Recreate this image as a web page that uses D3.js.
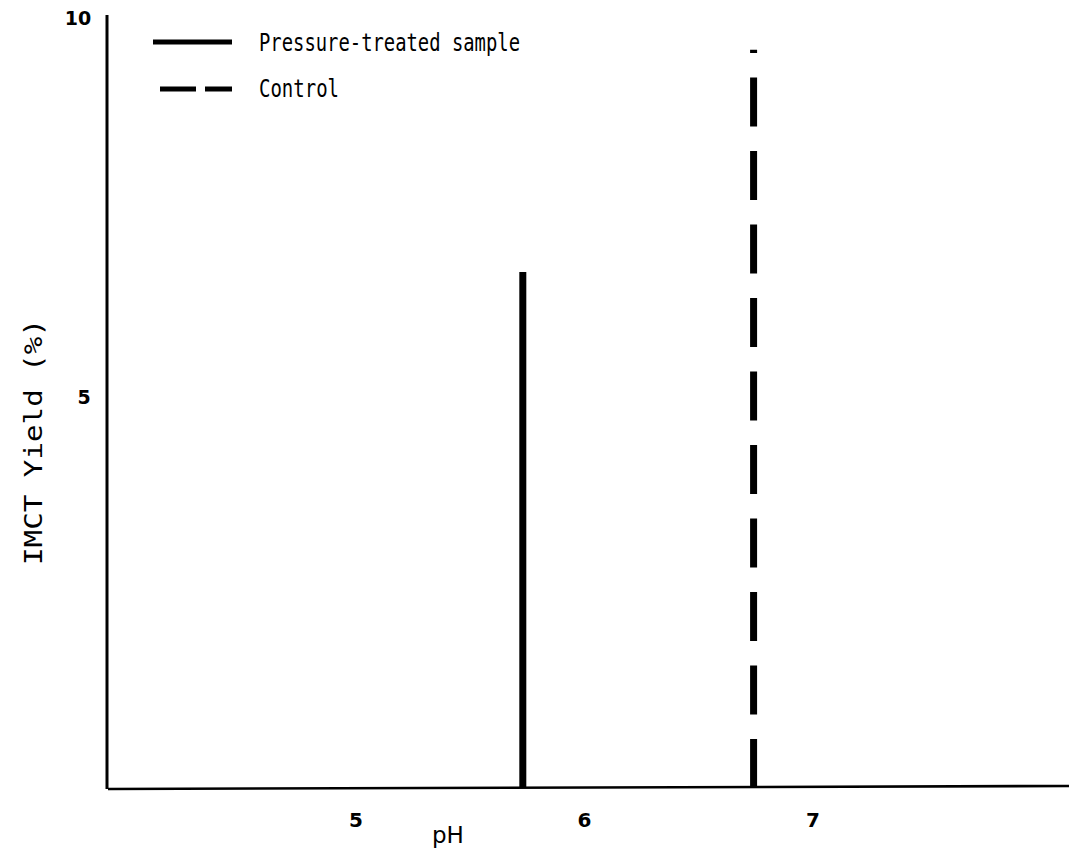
<!DOCTYPE html>
<html>
<head>
<meta charset="utf-8">
<script src="https://cdn.jsdelivr.net/npm/d3@7"></script>
<style>
  html, body { margin: 0; padding: 0; background: #fff; }
  svg { display: block; }
</style>
</head>
<body>
<svg id="chart" width="1069" height="851"></svg>
<script>
// ---- data ----
const seriesNames = ["Pressure-treated sample", "Control"];
const seriesPH = [5.73, 6.74];
const seriesYield = [6.65, 9.58];
const xTickValues = [5, 6, 7];
const yTickValues = [5, 10];
const xTitle = "pH";
const yTitle = "IMCT Yield (%)";

const svg = d3.select("#chart");
const W = 1069, H = 851;

const x = d3.scaleLinear().domain([5, 7]).range([356, 813]);
const y = d3.scaleLinear().domain([-0.16, 10]).range([788, 18]);

const ink = "#000";

// axes lines
svg.append("line")
  .attr("x1", 107).attr("x2", 107)
  .attr("y1", 15).attr("y2", y(-0.16) + 1)
  .attr("stroke", ink).attr("stroke-width", 3);
svg.append("line")
  .attr("x1", 108).attr("x2", W)
  .attr("y1", y(-0.16) + 1).attr("y2", y(-0.16) - 2)
  .attr("stroke", ink).attr("stroke-width", 2.6);

// x tick labels
svg.selectAll("text.xt").data(xTickValues).enter().append("text")
  .attr("class", "xt")
  .attr("x", d => x(d))
  .attr("y", 827)
  .attr("text-anchor", "middle")
  .attr("font-family", "DejaVu Sans, sans-serif")
  .attr("font-weight", "bold")
  .attr("font-size", 20)
  .attr("fill", ink)
  .text(d => d);

// y tick labels
svg.selectAll("text.yt").data(yTickValues).enter().append("text")
  .attr("class", "yt")
  .attr("x", d => d === 10 ? 78 : 84)
  .attr("y", d => y(d))
  .attr("dy", "0.36em")
  .attr("text-anchor", "middle")
  .attr("font-family", "DejaVu Sans, sans-serif")
  .attr("font-weight", "bold")
  .attr("font-size", 19)
  .attr("fill", ink)
  .text(d => d);

// x title
svg.append("text")
  .attr("x", 432).attr("y", 843)
  .attr("font-family", "DejaVu Sans, sans-serif")
  .attr("font-size", 23)
  .attr("fill", ink)
  .text(xTitle);

// y title
svg.append("text")
  .attr("transform", "translate(42,442) rotate(-90)")
  .attr("text-anchor", "middle")
  .attr("font-family", "DejaVu Sans Mono, monospace")
  .attr("font-size", 24)
  .attr("textLength", 246)
  .attr("lengthAdjust", "spacingAndGlyphs")
  .attr("fill", ink)
  .text(yTitle);

// series lines (vertical spikes)
const dashes = [null, "49 24.5"];
seriesNames.forEach((name, i) => {
  svg.append("line")
    .attr("x1", x(seriesPH[i])).attr("x2", x(seriesPH[i]))
    .attr("y1", y(-0.16)).attr("y2", y(seriesYield[i]))
    .attr("stroke", ink)
    .attr("stroke-width", 7)
    .attr("stroke-dasharray", dashes[i]);
});

// legend
const legY = [42, 89];
const legTextY = [51, 97];
const legTextLen = [261, 80];
seriesNames.forEach((name, i) => {
  svg.append("line")
    .attr("x1", i === 0 ? 153 : 160).attr("x2", 232)
    .attr("y1", legY[i]).attr("y2", legY[i])
    .attr("stroke", ink).attr("stroke-width", 5)
    .attr("stroke-dasharray", i === 0 ? null : "36 9");
  svg.append("text")
    .attr("x", 259).attr("y", legTextY[i])
    .attr("font-family", "DejaVu Sans Mono, monospace")
    .attr("font-size", 25)
    .attr("textLength", legTextLen[i])
    .attr("lengthAdjust", "spacingAndGlyphs")
    .attr("fill", ink)
    .text(name);
});
</script>
</body>
</html>
